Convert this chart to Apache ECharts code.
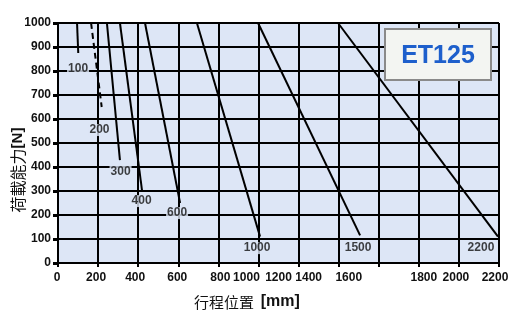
<!DOCTYPE html>
<html><head><meta charset="utf-8">
<script src="https://cdn.jsdelivr.net/npm/echarts@6/dist/echarts.min.js"></script>
<style>html,body{margin:0;padding:0;background:#fff}#c{width:530px;height:329px}</style>
</head><body><div id="c"></div>
<script>
// ---- data ----
const xTickLabels = ['0','200','400','600','800','1000','1200','1400','1600','1800','2000','2200'];
const strokes = ['100','200','300','400','600','1000','1500','2200'];
const curve100  = [[95,1000],[101,875]];
const curve200  = [[165,1000],[218,650]];
const curve300  = [[244,1000],[309,429]];
const curve400  = [[309,1000],[419,304]];
const curve600  = [[434,1000],[609,250]];
const curve1000 = [[693,1000],[1008,110]];
const curve1500 = [[998,1000],[1507,115]];
const curve2200 = [[1397,1000],[2195,110]];
const labelAnchors = [[100,808],[207,554],[312,379],[417,258],[594,208],[993,62],[1497,62],[2110,62]];

// ---- styling ----
const BG = '#dde6f6';
const FONT = '"Liberation Sans", Arial, sans-serif';
const CJK = '"Noto Sans CJK TC", "Noto Sans CJK SC", sans-serif';
const xLabelShift = [-1,-2,-3,-1,2,-12,-20,-30,-30,5,-3,-4];
const rich = {};
xLabelShift.forEach((d, i) => {
  rich['r' + i] = {
    fontFamily: FONT, fontWeight: 'bold', fontSize: 12, color: '#111',
    padding: d < 0 ? [0, -2 * d, 0, 0] : [0, 0, 0, 2 * d]
  };
});

const curves = [curve100, curve200, curve300, curve400, curve600, curve1000, curve1500, curve2200];
const lineSeries = curves.map((c, i) => ({
  type: 'line', data: c, showSymbol: false, silent: true, clip: true,
  lineStyle: { color: '#000', width: 2, type: i === 1 ? [6, 4] : 'solid' },
  z: 3
}));

const chart = echarts.init(document.getElementById('c'), null, { renderer: 'canvas' });
chart.setOption({
  animation: false,
  backgroundColor: '#fff',
  grid: { left: 58, right: 31, top: 23, bottom: 66, show: true, backgroundColor: BG, borderWidth: 0 },
  xAxis: {
    type: 'value', min: 0, max: 2200, interval: 200,
    axisLine: { show: true, lineStyle: { color: '#000', width: 2 } },
    axisTick: { show: true, length: 4, lineStyle: { color: '#000', width: 2 } },
    axisLabel: {
      margin: 9,
      formatter: (v) => {
        const i = Math.round(v / 200);
        return '{r' + i + '|' + xTickLabels[i] + '}';
      },
      rich: rich
    },
    splitLine: { show: true, lineStyle: { color: '#000', width: 2 } }
  },
  yAxis: {
    type: 'value', min: 0, max: 1000, interval: 100,
    axisLine: { show: true, lineStyle: { color: '#000', width: 2 } },
    axisTick: { show: true, length: 5, lineStyle: { color: '#000', width: 3 } },
    axisLabel: { margin: 7, fontFamily: FONT, fontWeight: 'bold', fontSize: 12, color: '#111',
                 formatter: (v) => String(v) },
    splitLine: { show: true, lineStyle: { color: '#000', width: 2 } }
  },
  series: lineSeries.concat([{
    type: 'scatter', data: labelAnchors, symbolSize: 1, silent: true,
    itemStyle: { color: 'transparent' }, z: 5,
    label: {
      show: true, position: 'inside',
      formatter: (p) => strokes[p.dataIndex],
      fontFamily: FONT, fontWeight: 'bold', fontSize: 12, color: '#111',
      backgroundColor: BG, padding: [0, 1]
    }
  }]),
  graphic: [
    { type: 'rect', z: 100, zlevel: 0, shape: { x: 385, y: 29, width: 106, height: 51 },
      style: { fill: '#f3f5f2', stroke: '#8a8a8a', lineWidth: 2 } },
    { type: 'text', z: 101, x: 438, y: 56,
      style: { text: 'ET125', font: 'bold 25px ' + FONT, fill: '#1d5fcc', align: 'center', verticalAlign: 'middle' } },
    { type: 'text', z: 100, x: 247, y: 302,
      style: {
        text: '{c|行程位置}  {m|[mm]}', align: 'center', verticalAlign: 'middle',
        rich: {
          c: { font: '15px ' + CJK, fill: '#111' },
          m: { font: 'bold 16px ' + FONT, fill: '#111' }
        }
      }
    },
    { type: 'text', z: 100, x: 18, y: 170, rotation: Math.PI / 2,
      style: {
        text: '{c|荷載能力}{m|[N]}', align: 'center', verticalAlign: 'middle',
        rich: {
          c: { font: '16px ' + CJK, fill: '#111' },
          m: { font: 'bold 15px ' + FONT, fill: '#111' }
        }
      }
    }
  ]
});
</script>
</body></html>
